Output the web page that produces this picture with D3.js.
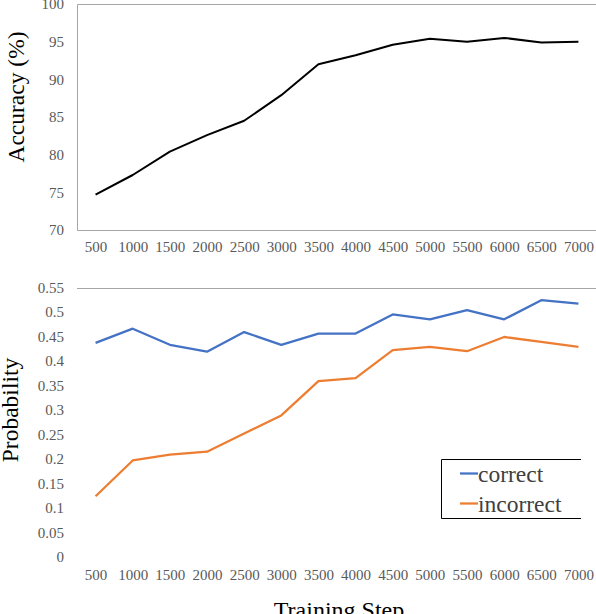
<!DOCTYPE html>
<html>
<head>
<meta charset="utf-8">
<script src="https://cdn.jsdelivr.net/npm/d3@7"></script>
<style>
  html, body { margin: 0; padding: 0; background: #fff; }
  svg { display: block; font-family: "Liberation Serif", "Times New Roman", serif; }
  .tick text { fill: #595959; font-size: 15px; font-family: "Liberation Serif", "Times New Roman", serif; }
</style>
</head>
<body>
<svg id="chart" width="596" height="614"></svg>
<script>
var steps = [500, 1000, 1500, 2000, 2500, 3000, 3500, 4000, 4500, 5000, 5500, 6000, 6500, 7000]
var accuracy = [74.7, 77.3, 80.4, 82.6, 84.5, 87.9, 92.0, 93.2, 94.6, 95.4, 95.0, 95.5, 94.9, 95.0]
var probCorrect = [0.437, 0.466, 0.433, 0.419, 0.459, 0.433, 0.456, 0.456, 0.495, 0.485, 0.504, 0.485, 0.524, 0.517]
var probIncorrect = [0.124, 0.197, 0.209, 0.215, 0.252, 0.289, 0.359, 0.365, 0.422, 0.429, 0.420, 0.449, 0.439, 0.429]
var accTicks = [70, 75, 80, 85, 90, 95, 100]
var probTicks = [0, 0.05, 0.1, 0.15, 0.2, 0.25, 0.3, 0.35, 0.4, 0.45, 0.5, 0.55]
var seriesNames = ['correct', 'incorrect']

var config = {
  left: 77, right: 597,
  gray: '#a6a6a6',
  colors: ['#4472c4', '#ed7d31']
}

var svg = d3.select('svg#chart')

var x = d3.scalePoint().domain(steps).range([config.left, config.right]).padding(0.5)

// ---- top panel: accuracy
var yAcc = d3.scaleLinear().domain([70, 100]).range([230, 4])

var accPanel = svg.append('g')
accPanel.append('path')
  .attr('d', 'M596,' + (yAcc(100) + 0.5) + 'H' + (config.left + 0.5) + 'V' + (yAcc(70) + 0.5) + 'H596')
  .attr('fill', 'none').attr('stroke', config.gray).attr('stroke-width', 1)

accPanel.append('g')
  .attr('transform', 'translate(64,0)')
  .call(d3.axisLeft(yAcc).tickValues(accTicks).tickSize(0).tickPadding(0))
  .call(function(g) { g.select('.domain').remove() })

accPanel.append('g')
  .attr('transform', 'translate(0,241)')
  .call(d3.axisBottom(x).tickSize(0).tickPadding(0))
  .call(function(g) { g.select('.domain').remove() })

accPanel.append('path')
  .datum(accuracy)
  .attr('fill', 'none').attr('stroke', '#000').attr('stroke-width', 2)
  .attr('stroke-linejoin', 'round')
  .attr('d', d3.line().x(function(d, i) { return x(steps[i]) }).y(function(d) { return yAcc(d) }))

accPanel.append('text')
  .attr('transform', 'translate(24,97) rotate(-90)')
  .attr('text-anchor', 'middle')
  .attr('font-size', '23.5px')
  .text('Accuracy (%)')

// ---- bottom panel: probability
var yProb = d3.scaleLinear().domain([0, 0.55]).range([557, 287.5])

var probPanel = svg.append('g')
probPanel.append('line')
  .attr('x1', config.left).attr('x2', 596)
  .attr('y1', Math.round(yProb(0.55)) + 0.5).attr('y2', Math.round(yProb(0.55)) + 0.5)
  .attr('stroke', config.gray).attr('stroke-width', 1)

probPanel.append('g')
  .attr('transform', 'translate(64,0)')
  .call(d3.axisLeft(yProb).tickValues(probTicks).tickSize(0).tickPadding(0)
    .tickFormat(function(d) { return String(+d.toFixed(2)) }))
  .call(function(g) { g.select('.domain').remove() })

probPanel.append('g')
  .attr('transform', 'translate(0,569)')
  .call(d3.axisBottom(x).tickSize(0).tickPadding(0))
  .call(function(g) { g.select('.domain').remove() })

var probLine = d3.line().x(function(d, i) { return x(steps[i]) }).y(function(d) { return yProb(d) })
;[probCorrect, probIncorrect].forEach(function(series, k) {
  probPanel.append('path')
    .datum(series)
    .attr('fill', 'none').attr('stroke', config.colors[k]).attr('stroke-width', 2.25)
    .attr('stroke-linejoin', 'round')
    .attr('d', probLine)
})

probPanel.append('text')
  .attr('transform', 'translate(18,410) rotate(-90)')
  .attr('text-anchor', 'middle')
  .attr('font-size', '23.5px')
  .text('Probability')

probPanel.append('text')
  .attr('x', 339).attr('y', 618)
  .attr('text-anchor', 'middle')
  .attr('font-size', '24px')
  .text('Training Step')

// legend
var legend = probPanel.append('g')
legend.append('path')
  .attr('d', 'M581,459.5H441.5V518.5H581')
  .attr('fill', 'none').attr('stroke', '#000').attr('stroke-width', 1)

var item = legend.selectAll('g.item').data(seriesNames)
  .enter().append('g').attr('class', 'item')
  .attr('transform', function(d, i) { return 'translate(0,' + (473.5 + i * 30) + ')' })
item.append('line')
  .attr('x1', 460).attr('x2', 478).attr('y1', 0).attr('y2', 0)
  .attr('stroke', function(d, i) { return config.colors[i] }).attr('stroke-width', 2.25)
item.append('text')
  .attr('x', 478).attr('y', 8.5)
  .attr('font-size', '23.5px').attr('fill', '#404040')
  .text(function(d) { return d })
</script>
</body>
</html>
